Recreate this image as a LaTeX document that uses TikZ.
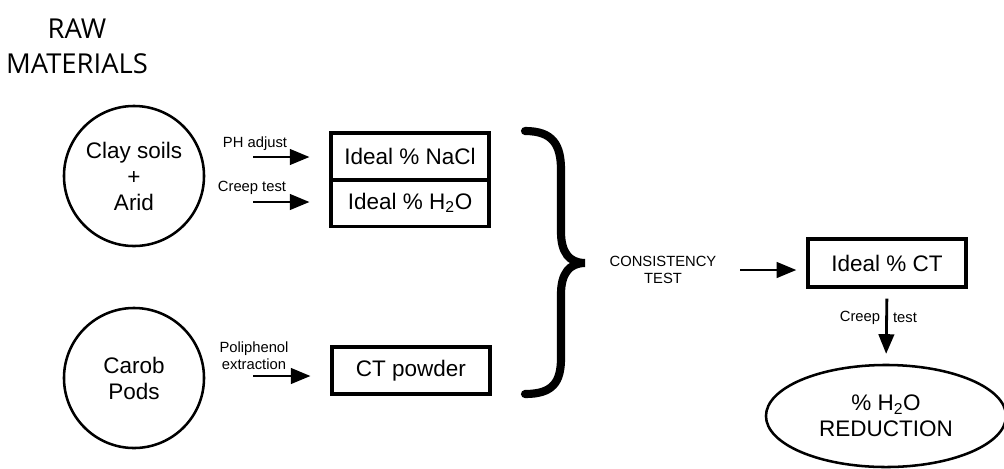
\documentclass[tikz,border=0pt]{standalone}
\usepackage{fontspec}
\setmainfont{Liberation Sans}
\newfontfamily\titlefont{Open Sans}
\usetikzlibrary{arrows.meta,shapes.geometric}

\tikzset{
  bigtext/.style={font=\fontsize{16}{18.5}\selectfont},
  smalltext/.style={font=\fontsize{10.5}{12}\selectfont},
  source/.style={draw,circle,line width=1.8pt,minimum size=3.5cm,align=center,bigtext},
  cell/.style={draw,line width=2.5pt,minimum width=3.95cm,minimum height=1.175cm,inner sep=0pt,bigtext},
  flow/.style={line width=2pt,-{Triangle[length=14pt,width=11pt]}},
}

\begin{document}
\begin{tikzpicture}[x=0.025cm,y=-0.025cm]
        \useasboundingbox (0,0) rectangle (1004,468);

        %%%%%%%% Titolo %%%%%%%%%
        \node[align=center,font=\titlefont\fontsize{19.5}{25}\selectfont] (title) at (77,46) {RAW\\MATERIALS};

        %%%%%%%% Blocchi %%%%%%%%%
        \node[source] (clay) at (134,176) {Clay soils\\+\\Arid};
        \node[source] (carob) at (134,378) {Carob\\Pods};

        \node[cell] (nacl) at (410,156.5) {Ideal \% NaCl};
        \node[cell] (water) at (410,203) {Ideal \% H\textsubscript{2}O};
        \node[cell] (powder) at (411,370.5) {CT powder};
        \node[cell,minimum height=1.2cm] (ideal) at (887,263) {Ideal \% CT};
        \node[draw,ellipse,line width=1.8pt,minimum width=6cm,minimum height=2.55cm,align=center,bigtext] (reduction) at (886,416) {\% H\textsubscript{2}O\\REDUCTION};

        %% parentesi
        \draw[line width=5.8pt,line cap=round] (525,131) .. controls (553,131) and (561,145) .. (561,170) -- (561,232)
            .. controls (561,252) and (569,263) .. (585,263) .. controls (569,263) and (561,274) .. (561,294)
            -- (561,358) .. controls (561,382) and (553,394) .. (525,394);

        %%%%%%%%% Frecce %%%%%%%%%%
        \coordinate (ph) at (253,157);
        \coordinate (creep) at (253,202);
        \coordinate (poli) at (253,376);
        \coordinate (cons) at (740,270);

        \draw[flow,shorten >=14pt] (ph) -- (ph -| nacl.west);
        \draw[flow,shorten >=14pt] (creep) -- (creep -| water.west);
        \draw[flow,shorten >=14pt] (poli) -- (poli -| powder.west);
        \draw[flow,shorten >=7pt] (cons) -- (cons -| ideal.west);
        \draw[flow,shorten <=7pt,shorten >=7pt] (ideal.south) -- (reduction.north);

        %%%%%%%%% Testo %%%%%%%%%%
        \node[smalltext] (phlab) at (255,144) {PH adjust};
        \node[smalltext] (creeplab) at (252,188) {Creep test};
        \node[smalltext,align=center] (polilab) at (254,356) {Poliphenol\\extraction};
        \node[smalltext,align=center] (conslab) at (663,270) {CONSISTENCY\\TEST};
        \node[smalltext] (downleft) at (860,318) {Creep};
        \node[smalltext] (downright) at (905,318) {test};

    \end{tikzpicture}
\end{document}
